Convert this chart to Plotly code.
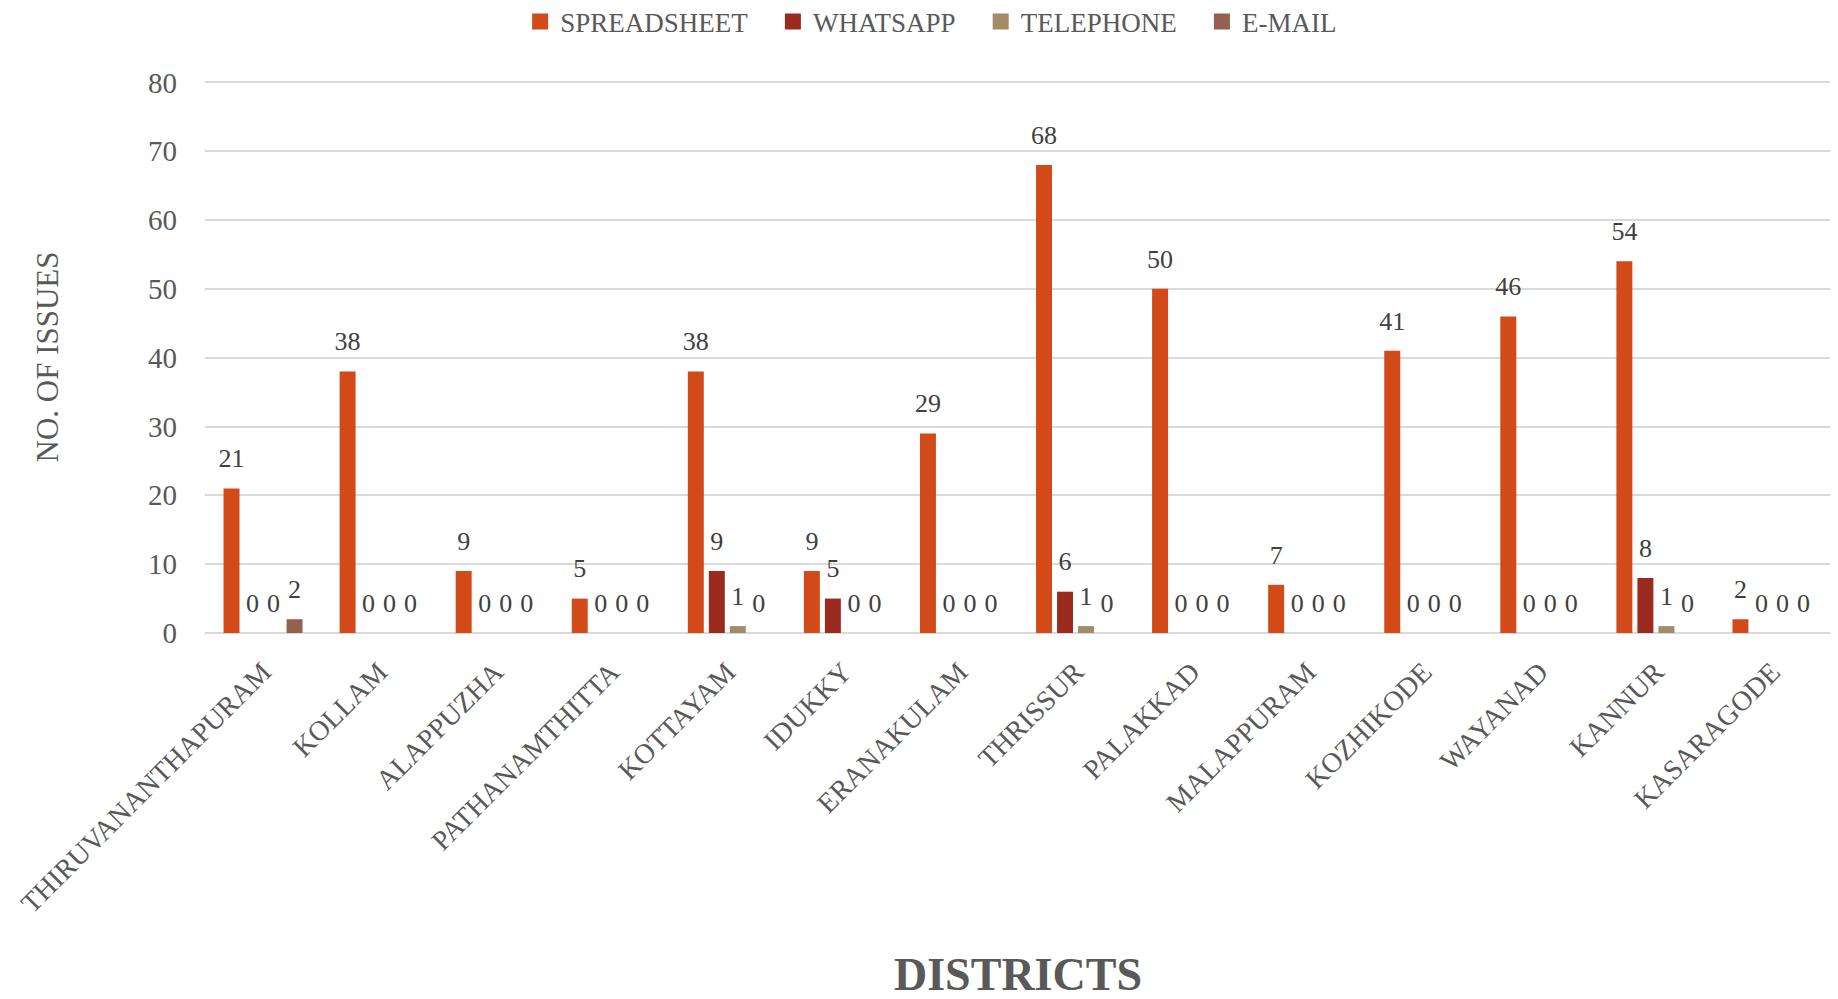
import plotly.graph_objects as go

districts = ["THIRUVANANTHAPURAM", "KOLLAM", "ALAPPUZHA", "PATHANAMTHITTA", "KOTTAYAM",
             "IDUKKY", "ERANAKULAM", "THRISSUR", "PALAKKAD", "MALAPPURAM", "KOZHIKODE",
             "WAYANAD", "KANNUR", "KASARAGODE"]
spreadsheet = [21, 38, 9, 5, 38, 9, 29, 68, 50, 7, 41, 46, 54, 2]
whatsapp = [0, 0, 0, 0, 9, 5, 0, 6, 0, 0, 0, 0, 8, 0]
telephone = [0, 0, 0, 0, 1, 0, 0, 1, 0, 0, 0, 0, 1, 0]
email = [2, 0, 0, 0, 0, 0, 0, 0, 0, 0, 0, 0, 0, 0]
series_names = ["SPREADSHEET", "WHATSAPP", "TELEPHONE", "E-MAIL"]
y_ticks = [0, 10, 20, 30, 40, 50, 60, 70, 80]

colors = ["#D24A17", "#9B2A1F", "#A38B68", "#94604F"]
FONT = "Liberation Serif"
GRAY = "#595959"
GAP = 0.276
NBSP = "\u00a0" * 3

fig = go.Figure()
all_series = [spreadsheet, whatsapp, telephone, email]

# legend proxies (square swatches) on a hidden overlay axis pair
for name, col in zip(series_names, colors):
    fig.add_trace(go.Scatter(x=[None], y=[None], mode="markers", name=name + NBSP,
                             marker=dict(symbol="square", size=16, color=col),
                             xaxis="x2", yaxis="y2", hoverinfo="skip"))

for name, vals, col in zip(series_names, all_series, colors):
    fig.add_trace(go.Bar(x=districts, y=vals, name=name, marker_color=col,
                         marker_line_width=0, showlegend=False))
for name, vals in zip(series_names, all_series):
    fig.add_trace(go.Scatter(x=districts, y=vals, mode="markers+text",
                             text=[str(v) for v in vals], textposition="top center",
                             marker=dict(size=22, opacity=0),
                             textfont=dict(family=FONT, size=26, color="#404040"),
                             showlegend=False, hoverinfo="skip", cliponaxis=False))

fig.update_layout(
    width=1822, height=991,
    paper_bgcolor="white", plot_bgcolor="white",
    margin=dict(l=197, r=0, t=73, b=366, autoexpand=False),
    barmode="group", bargap=GAP, bargroupgap=0.24,
    scattermode="group", scattergap=GAP,
    font=dict(family=FONT, color=GRAY),
    legend=dict(orientation="h", x=0.453, xanchor="center", y=1.107, yanchor="middle",
                font=dict(family=FONT, size=27, color=GRAY), traceorder="normal",
                itemsizing="trace"),
    xaxis=dict(tickangle=-45, tickfont=dict(family=FONT, size=28, color=GRAY),
               showgrid=False, showline=False, ticks="", automargin=False,
               ticklabelstandoff=16),
    yaxis=dict(range=[0, 80.2], tickvals=y_ticks, showgrid=True, gridcolor="#D9D9D9",
               gridwidth=1.5, zeroline=True, zerolinecolor="#D9D9D9", zerolinewidth=1.5,
               tickfont=dict(family=FONT, size=29, color=GRAY), ticklabelstandoff=27,
               title=dict(text="NO. OF ISSUES", font=dict(family=FONT, size=31, color=GRAY),
                          standoff=80),
               automargin=False),
    xaxis2=dict(overlaying="x", visible=False),
    yaxis2=dict(overlaying="y", visible=False),
    showlegend=True,
)
fig.add_annotation(text="<b>DISTRICTS</b>", xref="paper", yref="paper", x=0.5, y=-0.618,
                   xanchor="center", yanchor="middle", showarrow=False,
                   font=dict(family=FONT, size=46, color=GRAY))

fig.write_html("out.html")
